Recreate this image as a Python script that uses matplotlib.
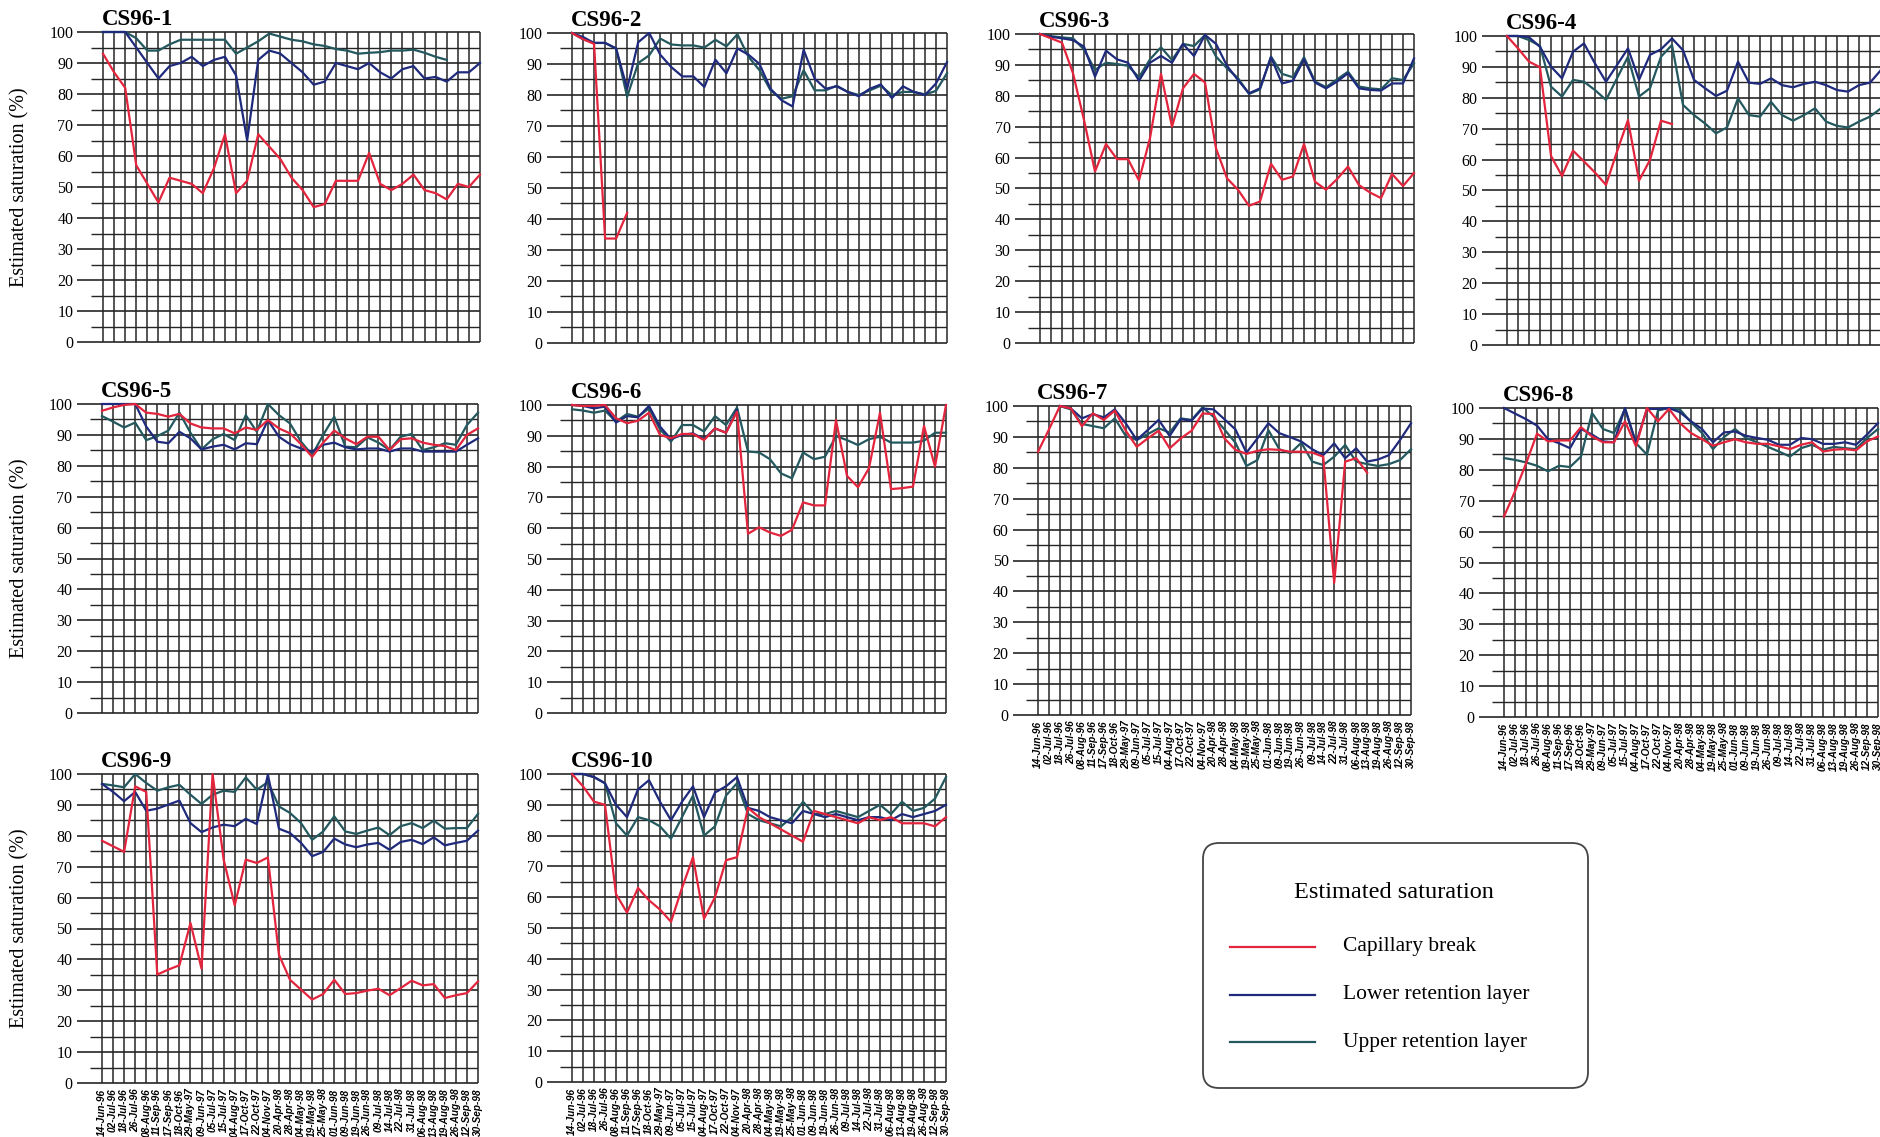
import numpy as np
import matplotlib.pyplot as plt
from matplotlib.patches import FancyBboxPatch
from matplotlib.lines import Line2D

plt.rcParams['font.family'] = ['Liberation Serif', 'DejaVu Serif']

dates = ['14-Jun-96', '02-Jul-96', '18-Jul-96', '26-Jul-96', '08-Aug-96', '11-Sep-96',
         '17-Sep-96', '18-Oct-96', '29-May-97', '09-Jun-97', '05-Jul-97', '15-Jul-97',
         '04-Aug-97', '17-Oct-97', '22-Oct-97', '04-Nov-97', '20-Apr-98', '28-Apr-98',
         '04-May-98', '19-May-98', '25-May-98', '01-Jun-98', '09-Jun-98', '19-Jun-98',
         '26-Jun-98', '09-Jul-98', '14-Jul-98', '22-Jul-98', '31-Jul-98', '06-Aug-98',
         '13-Aug-98', '19-Aug-98', '26-Aug-98', '12-Sep-98', '30-Sep-98']

titles = ['CS96-1', 'CS96-2', 'CS96-3', 'CS96-4', 'CS96-5',
          'CS96-6', 'CS96-7', 'CS96-8', 'CS96-9', 'CS96-10']

N = None

# capillary break / lower retention layer / upper retention layer, one set per cell
cap_1 = [93, 87, 82, 57, 51, 45, 53, 52, 51, 48, 56, 67, 48, 52, 67, 63, 59, 53,
         49, 43.5, 44.5, 52, 52, 52, 61, 51, 49, 51, 54, 49, 48, 46, 51, 50, 54]
low_1 = [100, 100, 100, 95, 90, 85, 89, 90, 92, 89, 91, 92, 86, 65, 91, 94, 93, 90,
         87, 83, 84, 90, 89, 88, 90, 87, 85, 88, 89, 85, 85.5, 84, 87, 87, 90]
up_1 = [100, 100, 100, 98, 94, 94, 96, 97.5, 97.5, 97.5, 97.5, 97.5, 93, 95, 97, 99.5,
        98.5, 97.5, 97, 96, 95.5, 94.5, 94, 93, 93.3, 93.5, 94, 94, 94.3, 93.3, 92,
        91, N, N, N]

cap_2 = [100, 98, 96.5, 33.7, 33.7, 42] + [N] * 29
low_2 = [100, 98.7, 96.8, 96.8, 95, 82, 97, 100, 93, 89, 86, 86, 82.6, 91.4, 87, 95,
         93, 90, 82, 78.3, 76.3, 94.6, 85.3, 82, 82.8, 81, 79.6, 82, 83.4, 79, 82.8,
         81, 80, 83.7, 90.6]
up_2 = [100, 98, 96.8, 96.8, 95, 79.4, 90.3, 92.8, 98.2, 96.3, 96, 96, 95.3, 97.8,
        95.7, 99.6, 92.3, 88, 81.5, 78.8, 79.6, 88, 81.5, 81.5, 83, 81, 80, 81.5, 83,
        80, 81, 81, 80.2, 81.3, 87]

cap_3 = [100, 98.6, 97.2, 87.3, 72.2, 55.5, 64.4, 59.5, 59.5, 52.6, 66.3, 87.1, 70,
         82.4, 87.1, 84.3, 63, 53.3, 49.6, 44.4, 45.8, 58, 52.8, 53.9, 64.4, 52.2,
         49.6, 53, 57.1, 51.1, 48.7, 46.9, 54.7, 50.8, 55]
low_3 = [100, 99.1, 98.6, 98, 95.9, 86.2, 94.6, 91.8, 90.7, 84.9, 90.7, 92.9, 90.7,
         96.8, 92.9, 99.7, 96.8, 89.7, 85.1, 80.8, 82.4, 92.5, 84, 84.9, 91.8, 84.3,
         82.4, 84.6, 87.3, 82.4, 81.9, 81.7, 84, 84, 92.1]
up_3 = [100, 99.3, 98.9, 98.6, 95, 88.4, 90.7, 90.3, 89.7, 86, 91.8, 95.7, 91.6, 96.8,
        96.1, 99.7, 92.7, 88.9, 85.7, 80.6, 82.1, 92.7, 87.1, 86, 92.5, 84.6, 82.8,
        85.3, 87.8, 83, 82.4, 82.1, 85.7, 85.1, 90.5]

cap_4 = [100, 96, 91.7, 89.9, 61.2, 54.7, 62.9, 59.4, 55.8, 51.8, 62.6, 72.8, 53.2,
         59.9, 72.6, 71.5] + [N] * 19
low_4 = [100, 100, 99.6, 96.5, 90.1, 86.3, 94.9, 97.6, 91.1, 85.2, 90.6, 96, 85.8,
         93.9, 95.7, 99.2, 95.4, 85.8, 83.1, 80.6, 82.3, 91.7, 84.9, 84.5, 86.3, 84.1,
         83.4, 84.5, 85.2, 84.1, 82.5, 82, 84.1, 84.9, 89]
up_4 = [100, 100, 98.7, 96.8, 83.6, 80.4, 85.8, 85.2, 82.5, 79.3, 86.3, 93.3, 80.4,
        83.1, 93.3, 97.1, 77.7, 74.4, 71.7, 68.5, 70.4, 79.8, 74.4, 73.9, 78.7, 74.4,
        72.6, 74.4, 76.6, 72.3, 70.9, 70.4, 72.3, 73.9, 76.6]

cap_5 = [97.8, 98.9, 99.7, 100, 97.2, 96.8, 95.9, 96.8, 93.7, 92.4, 92.1, 92.1, 90.5,
         92.4, 91.6, 94.8, 92.1, 90.5, 87, 82.9, 87.5, 91.4, 88.9, 87, 89.4, 89.4,
         85.1, 88.6, 88.9, 87.5, 86.8, 86.4, 85.1, 90, 92.1]
low_5 = [100, 100, 100, 100, 92.7, 87.8, 87.3, 91, 88.9, 85.3, 86.2, 86.8, 85.3, 87.3,
         87, 94.8, 89.4, 87, 85.6, 84.6, 86.8, 87.5, 86, 85.3, 85.6, 85.6, 84.6, 85.6,
         85.6, 84.6, 84.6, 84.6, 84.6, 86.8, 88.9]
up_5 = [96.1, 94.3, 92.4, 94, 88.3, 89.6, 91.4, 97.2, 90.7, 85.3, 88.6, 90.3, 88.3,
        96.4, 91, 100, 96.4, 93.7, 87.8, 83.5, 90, 95.9, 86.2, 86, 89.2, 87.5, 85.1,
        89.4, 90.3, 85.1, 86, 87.3, 86.8, 93.2, 97.2]

cap_6 = [100, 99.7, 99.7, 100, 95.7, 94.1, 94.9, 97.5, 90.3, 89.2, 90.6, 90.6, 88.6,
         92.4, 91, 97.8, 58.2, 60.3, 58.6, 57.5, 59.5, 68.4, 67.4, 67.4, 95.1, 77,
         73.3, 79.5, 97.5, 72.7, 73, 73.5, 93.2, 80, 100]
low_6 = [100, 99.7, 98.9, 99.5, 94.3, 96.4, 96, 99.7, 93, 88.9, 90.3, 90.8, 88.9,
         92.4, 91, 98.4] + [N] * 19
up_6 = [98.6, 98.2, 97.5, 98.2, 94.6, 97.1, 96.2, 98.9, 92.1, 88.1, 93.5, 93.5, 91.4,
        96.4, 93.5, 99.2, 84.9, 84.6, 82.4, 77.8, 76.2, 84.6, 82.4, 83.2, 89.9, 88.6,
        87, 88.9, 89.7, 87.8, 87.8, 87.8, 88.4, 91, 91]

cap_7 = [85.2, 92.4, 100, 99.2, 93.5, 97.6, 95.5, 98.5, 92, 86.8, 89.5, 92, 86.3,
         89.5, 92, 97.6, 97.4, 89.5, 85.8, 84.5, 85.5, 86, 85.8, 85.2, 85.2, 84.9,
         83.6, 42.8, 82, 83.1, 78.4, N, N, N, N]
low_7 = [N, N, 100, 99.2, 96, 97.4, 96.3, 98.9, 94.4, 89, 92.2, 95.5, 90.3, 95.7,
         95.3, 99.2, 98.9, 95.7, 92.4, 84.9, 89.5, 94.4, 91.2, 89.9, 88.5, 86, 84.1,
         87.9, 83.1, 86.3, 82, 82.7, 84.1, 89, 94.4]
up_7 = [N, N, 100, 98.9, 94.2, 93.5, 92.8, 96, 90.3, 89, 90.9, 92.8, 91.4, 96, 95.5,
        99.6, 96.5, 92.4, 88.1, 80.6, 82.5, 92.2, 86, 84.7, 88.1, 82, 80.9, 83.6,
        87.4, 82, 81.2, 80.6, 81.2, 82.5, 86]

cap_8 = [64.9, 73, 82, 91.7, 89.2, 89.5, 89.5, 93.8, 90.8, 88.9, 88.9, 95.7, 87.6,
         100, 95.7, 99.7, 95.1, 91.9, 89.9, 87.8, 88.9, 89.9, 88.9, 88.4, 88.4, 87.6,
         86.7, 88.1, 88.9, 85.9, 86.5, 86.7, 86.3, 89.2, 90.8]
low_8 = [100, 98.2, 96.4, 94.3, 89.9, 88.6, 87, 93.2, 91.4, 89.2, 88.9, 100, 88.6,
         99.7, 99.7, 100, 98.6, 95.7, 93.2, 88.9, 92.1, 92.4, 91, 90.3, 89.7, 88.1,
         88.1, 90.3, 89.9, 88.4, 88.4, 88.9, 88.1, 91.4, 95.1]
up_8 = [83.8, 83.2, 82.4, 81.3, 79.5, 81.3, 80.9, 84.3, 98.4, 93.2, 91.9, 99.7, 88.6,
        84.9, 99.2, 100, 99.5, 95.4, 91.9, 86.7, 90.6, 93.2, 90.3, 88.9, 87.4, 85.9,
        84.3, 87, 88.1, 86.5, 87.4, 87, 86.7, 90.3, 93.2]

cap_9 = [78.4, 76.6, 74.8, 96, 94.2, 35.1, 36.7, 38.1, 51.8, 37, 100, 72.3, 57.5,
         72.3, 71.2, 73, 41.5, 33.4, 30.2, 27, 28.8, 33.4, 28.8, 29.1, 29.9, 30.5,
         28.4, 30.7, 33.1, 31.6, 32, 27.5, 28.4, 29.1, 32.9]
low_9 = [96.8, 94.2, 91.2, 94.2, 88.1, 88.8, 90.1, 91.4, 84.1, 81.2, 82.7, 83.6, 83.1,
         85.5, 83.8, 99.8, 82.3, 80.9, 77.7, 73.4, 74.8, 79.1, 77.2, 76.3, 77.2, 77.7,
         75.5, 78, 78.7, 77.3, 79.5, 76.9, 77.7, 78.4, 81.7]
up_9 = [96.8, 96.3, 95.7, 100, 97.1, 94.6, 95.7, 96.5, 93.3, 90.3, 93.3, 94.6, 94.2,
        98.9, 94.9, 97.4, 89.5, 87.4, 84.1, 78.7, 81.4, 86.3, 81.4, 80.6, 81.7, 82.7,
        80.2, 83.1, 84.1, 82.5, 84.9, 82.3, 82.5, 82.5, 87.1]

cap_10 = [100, 96, 91, 90, 61, 55, 63, 59, 56, 52, 63, 73, 53, 60, 72, 73, 89, 86,
          84, 82, 80, 78, 88, 87, 86, 85, 84, 86, 85, 86, 84, 84, 84, 83, 86]
low_10 = [100, 100, 99, 97, 90, 86, 95, 98, 91, 85, 91, 96, 86, 94, 96, 99, 89, 88,
          86, 85, 84, 88, 87, 86, 87, 86, 85, 86, 86, 85, 87, 86, 87, 88, 90]
up_10 = [100, 100, 99, 97, 84, 80, 86, 85, 83, 79, 86, 93, 80, 83, 93, 97, 87, 85,
         84, 83, 86, 91, 87, 87, 88, 87, 86, 88, 90, 87, 91, 88, 89, 92, 99]

cap = [cap_1, cap_2, cap_3, cap_4, cap_5, cap_6, cap_7, cap_8, cap_9, cap_10]
low = [low_1, low_2, low_3, low_4, low_5, low_6, low_7, low_8, low_9, low_10]
up = [up_1, up_2, up_3, up_4, up_5, up_6, up_7, up_8, up_9, up_10]

# pixel frame of each cell: first date line, last date line, top, bottom
frames = [(103, 480, 32, 342), (572, 947, 33, 343), (1040, 1414, 34, 343),
          (1507, 1881, 36, 345), (102, 478, 404, 713), (572, 946, 405, 713),
          (1038, 1411, 406, 715), (1504, 1878, 408, 717), (102, 478, 774, 1083),
          (572, 946, 774, 1082)]
with_dates = [False, False, False, False, False, False, True, True, True, True]
with_ylabel = [True, False, False, False, True, False, False, False, True, False]

RED = '#e3243d'
NAVY = '#1f2a7c'
TEAL = '#23585e'
GRID = '#262626'

W, H = 1880, 1137
fig = plt.figure(figsize=(W / 100, H / 100), dpi=100)
fig.patch.set_facecolor('white')

LEFT = -2.3
x = np.arange(len(dates))

for k in range(10):
    x0, x1, top, bot = frames[k]
    step = (x1 - x0) / 34
    left = x0 + LEFT * step
    ax = fig.add_axes([left / W, 1 - bot / H, (x1 - left) / W, (bot - top) / H])
    ax.set_xlim(LEFT, 34)
    ax.set_ylim(0, 100)
    for s in ax.spines.values():
        s.set_visible(False)

    ax.hlines(np.arange(0, 101, 10), LEFT, 34, color=GRID, lw=1.2, zorder=1, clip_on=False)
    ax.hlines(np.arange(5, 100, 10), -1.1, 34, color=GRID, lw=1.0, zorder=1)
    ax.vlines(x, 0, 100, color=GRID, lw=1.1, zorder=1, clip_on=False)

    ax.plot(x, np.array(up[k], dtype=float), color=TEAL, lw=1.6, zorder=3, clip_on=False)
    ax.plot(x, np.array(low[k], dtype=float), color=NAVY, lw=1.6, zorder=4, clip_on=False)
    ax.plot(x, np.array(cap[k], dtype=float), color=RED, lw=1.6, zorder=5, clip_on=False)

    ax.set_yticks(np.arange(0, 101, 10))
    ax.tick_params(axis='y', length=0, pad=3, labelsize=11.5)
    ax.set_xticks(x)
    if with_dates[k]:
        ax.set_xticklabels(dates, rotation=90, fontsize=7.2, fontweight='bold',
                           fontstyle='italic', family=['Liberation Sans', 'DejaVu Sans'])
    else:
        ax.set_xticklabels([])
    ax.tick_params(axis='x', length=0, pad=4)

    ax.annotate(titles[k], xy=(0, 100), xytext=(-1, 5), textcoords='offset points',
                fontsize=16.5, fontweight='bold', va='baseline', ha='left')

    if with_ylabel[k]:
        fig.text(20 / W, 1 - (top + bot) / 2 / H, 'Estimated saturation (%)',
                 rotation=90, ha='center', va='center', fontsize=14.5)

# legend box drawn in inches on the figure
tr = fig.dpi_scale_trans
bx0, by0, bx1, by1 = 12.03, (H - 1088) / 100, 15.88, (H - 843) / 100
fig.patches.append(FancyBboxPatch((bx0, by0), bx1 - bx0, by1 - by0,
                                  boxstyle='round,pad=0,rounding_size=0.16',
                                  transform=tr, facecolor='white', edgecolor='#444444',
                                  lw=1.3))
fig.text(13.94, (H - 892) / 100, 'Estimated saturation', transform=tr,
         ha='center', va='center', fontsize=17.5)
entries = [('Capillary break', RED), ('Lower retention layer', NAVY),
           ('Upper retention layer', TEAL)]
for i, (name, col) in enumerate(entries):
    yy = (H - (947 + 47.5 * i)) / 100
    fig.lines.append(Line2D([12.30, 13.15], [yy, yy], transform=tr, color=col, lw=1.6))
    fig.text(13.43, yy, name, transform=tr, ha='left', va='center', fontsize=15.5)

fig.savefig('out.png', dpi=100, facecolor='white')
